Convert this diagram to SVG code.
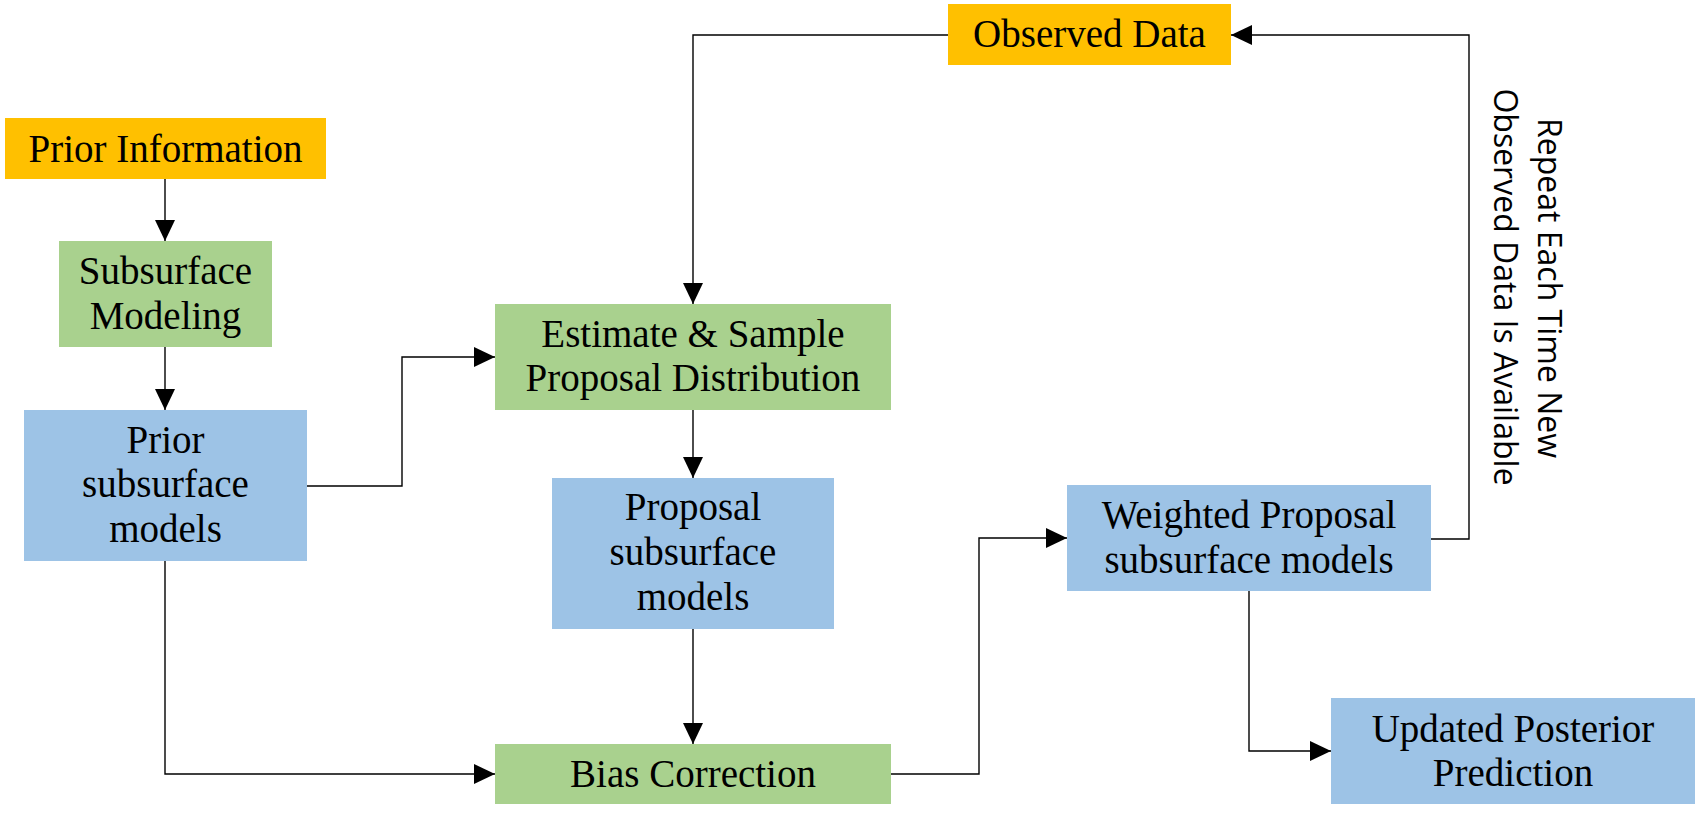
<svg xmlns="http://www.w3.org/2000/svg" width="1695" height="819" viewBox="0 0 1695 819">
  <style>
    .orange { fill: #FFC000; }
    .green { fill: #A9D18E; }
    .blue { fill: #9DC3E6; }
    .lbl { font-family: "Liberation Serif", "Times New Roman", serif; font-size: 39px; fill: #000; text-anchor: middle; }
    .side { font-family: "Open Sans", "Noto Sans", "DejaVu Sans", sans-serif; font-size: 32px; fill: #000; text-anchor: middle; }
    .conn { fill: none; stroke: #000; stroke-width: 1.4; }
  </style>
  <defs>
    <marker id="arrow" markerUnits="userSpaceOnUse" markerWidth="21" markerHeight="20" refX="21" refY="10" orient="auto" viewBox="0 0 21 20">
      <path d="M0,0 L21,10 L0,20 Z" fill="#000"/>
    </marker>
  </defs>
  <rect width="1695" height="819" fill="#fff"/>

  <g id="connectors">
    <path class="conn" d="M165,179 V241" marker-end="url(#arrow)"/>
    <path class="conn" d="M165,347 V410" marker-end="url(#arrow)"/>
    <path class="conn" d="M307,486 H402 V357 H495" marker-end="url(#arrow)"/>
    <path class="conn" d="M948,35 H693 V304" marker-end="url(#arrow)"/>
    <path class="conn" d="M693,410 V478" marker-end="url(#arrow)"/>
    <path class="conn" d="M693,629 V744" marker-end="url(#arrow)"/>
    <path class="conn" d="M165,561 V774 H495" marker-end="url(#arrow)"/>
    <path class="conn" d="M891,774 H979 V538 H1067" marker-end="url(#arrow)"/>
    <path class="conn" d="M1431,539 H1469 V35 H1231" marker-end="url(#arrow)"/>
    <path class="conn" d="M1249,591 V751 H1331" marker-end="url(#arrow)"/>
  </g>

  <g id="prior-information">
    <rect class="orange" x="5" y="118" width="321" height="61"/>
    <text class="lbl" x="165.5" y="162">Prior Information</text>
  </g>

  <g id="observed-data">
    <rect class="orange" x="948" y="4" width="283" height="61"/>
    <text class="lbl" x="1089.5" y="47">Observed Data</text>
  </g>

  <g id="subsurface-modeling">
    <rect class="green" x="59" y="241" width="213" height="106"/>
    <text class="lbl" x="165.5" y="284">Subsurface</text>
    <text class="lbl" x="165.5" y="329">Modeling</text>
  </g>

  <g id="prior-subsurface-models">
    <rect class="blue" x="24" y="410" width="283" height="151"/>
    <text class="lbl" x="165.5" y="453">Prior</text>
    <text class="lbl" x="165.5" y="497">subsurface</text>
    <text class="lbl" x="165.5" y="542">models</text>
  </g>

  <g id="estimate-sample">
    <rect class="green" x="495" y="304" width="396" height="106"/>
    <text class="lbl" x="693" y="347">Estimate &amp; Sample</text>
    <text class="lbl" x="693" y="391">Proposal Distribution</text>
  </g>

  <g id="proposal-subsurface-models">
    <rect class="blue" x="552" y="478" width="282" height="151"/>
    <text class="lbl" x="693" y="520">Proposal</text>
    <text class="lbl" x="693" y="565">subsurface</text>
    <text class="lbl" x="693" y="610">models</text>
  </g>

  <g id="bias-correction">
    <rect class="green" x="495" y="744" width="396" height="60"/>
    <text class="lbl" x="693" y="787">Bias Correction</text>
  </g>

  <g id="weighted-proposal">
    <rect class="blue" x="1067" y="485" width="364" height="106"/>
    <text class="lbl" x="1249" y="528">Weighted Proposal</text>
    <text class="lbl" x="1249" y="573">subsurface models</text>
  </g>

  <g id="updated-posterior">
    <rect class="blue" x="1331" y="698" width="364" height="106"/>
    <text class="lbl" x="1513" y="742">Updated Posterior</text>
    <text class="lbl" x="1513" y="786">Prediction</text>
  </g>

  <g id="repeat-label">
    <text class="side" transform="translate(1538,288) rotate(90)">Repeat Each Time New</text>
    <text class="side" transform="translate(1494,287) rotate(90)">Observed Data Is Available</text>
  </g>
</svg>
